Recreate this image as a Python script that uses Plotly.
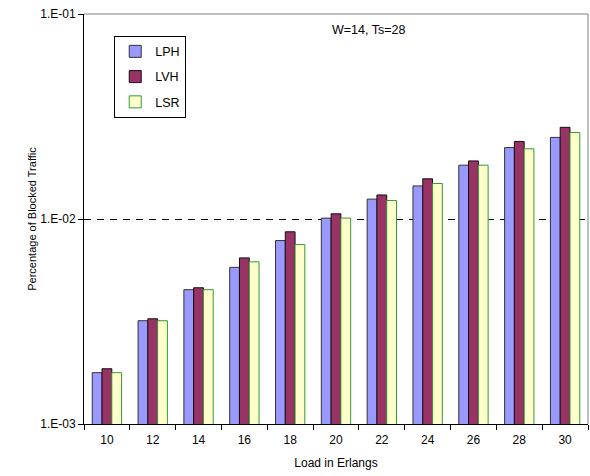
import plotly.graph_objects as go

loads = ["10", "12", "14", "16", "18", "20", "22", "24", "26", "28", "30"]
lph = [0.00178, 0.00319, 0.00452, 0.00581, 0.00785, 0.0101, 0.0125, 0.0145, 0.0183, 0.0223, 0.0250]
lvh = [0.00186, 0.00326, 0.00462, 0.00646, 0.00866, 0.0106, 0.0131, 0.0157, 0.0192, 0.0239, 0.0280]
lsr = [0.00178, 0.00319, 0.00452, 0.00618, 0.00750, 0.0101, 0.0123, 0.0149, 0.0183, 0.0220, 0.0264]
ytick_vals = [0.001, 0.01, 0.1]
ytick_text = ["1.E-03", "1.E-02", "1.E-01"]

FONT = "Liberation Sans, Arial, sans-serif"

fig = go.Figure()
series = [
    ("LPH", lph, "#9999FF", "#333333"),
    ("LVH", lvh, "#993366", "#111111"),
    ("LSR", lsr, "#FFFFCC", "#339933"),
]
for name, vals, fill, edge in series:
    fig.add_trace(go.Bar(
        x=loads, y=vals, name=name, legendgroup=name,
        marker=dict(color=fill, line=dict(color=edge, width=1)),
    ))

fig.update_layout(
    width=590, height=476,
    margin=dict(l=84, r=2, t=14, b=52),
    paper_bgcolor="white", plot_bgcolor="white",
    barmode="group", bargap=0.36, bargroupgap=0,
    font=dict(family=FONT, size=12, color="black"),
    showlegend=True,
    legend=dict(
        x=0.06, y=0.947, xanchor="left", yanchor="top",
        bordercolor="black", borderwidth=1, bgcolor="white",
        font=dict(size=12.5), traceorder="grouped", tracegroupgap=6,
        itemwidth=30,
    ),
    xaxis=dict(
        type="category", showline=True, linecolor="black", linewidth=1,
        ticks="outside", ticklen=5, tickcolor="black", tickson="boundaries",
        showgrid=False, tickfont=dict(size=12), ticklabelstandoff=5,
        title=dict(text="Load in Erlangs", font=dict(size=12), standoff=12),
    ),
    yaxis=dict(
        type="log", range=[-3, -1], tickvals=ytick_vals, ticktext=ytick_text,
        showline=True, linecolor="black", linewidth=1,
        ticks="outside", ticklen=5, tickcolor="black",
        showgrid=True, gridcolor="black", gridwidth=1, griddash="7px,6px",
        tickfont=dict(size=12),
        title=dict(text="Percentage of Blocked Traffic", font=dict(size=11), standoff=1),
    ),
    annotations=[dict(
        text="W=14, Ts=28", xref="paper", yref="paper", x=0.5635, y=0.961,
        showarrow=False, font=dict(size=12.5), xanchor="center", yanchor="middle",
    )],
    shapes=[
        dict(type="line", xref="paper", yref="paper", x0=0, x1=1, y0=1, y1=1,
             line=dict(color="#808080", width=1), layer="above"),
        dict(type="line", xref="paper", yref="paper", x0=1, x1=1, y0=0, y1=1,
             line=dict(color="#808080", width=1), layer="above"),
    ],
)

fig.write_html("out.html")
